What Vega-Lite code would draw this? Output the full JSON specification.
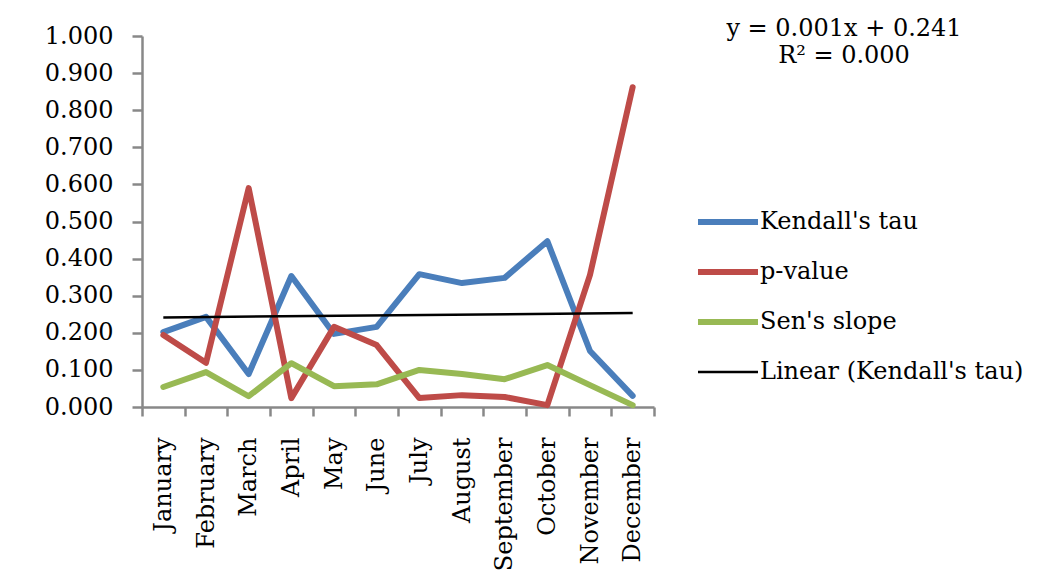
{
  "$schema": "https://vega.github.io/schema/vega-lite/v6.json",
  "width": 512,
  "height": 371,
  "autosize": {"type": "none"},
  "padding": {"left": 142, "top": 36, "right": 398, "bottom": 173},
  "background": "white",
  "datasets": {
    "stats": [
      {"month": "January", "idx": 1, "series": "Kendall's tau", "value": 0.202},
      {"month": "February", "idx": 2, "series": "Kendall's tau", "value": 0.243},
      {"month": "March", "idx": 3, "series": "Kendall's tau", "value": 0.089},
      {"month": "April", "idx": 4, "series": "Kendall's tau", "value": 0.353},
      {"month": "May", "idx": 5, "series": "Kendall's tau", "value": 0.197},
      {"month": "June", "idx": 6, "series": "Kendall's tau", "value": 0.216},
      {"month": "July", "idx": 7, "series": "Kendall's tau", "value": 0.358},
      {"month": "August", "idx": 8, "series": "Kendall's tau", "value": 0.334},
      {"month": "September", "idx": 9, "series": "Kendall's tau", "value": 0.348},
      {"month": "October", "idx": 10, "series": "Kendall's tau", "value": 0.447},
      {"month": "November", "idx": 11, "series": "Kendall's tau", "value": 0.151},
      {"month": "December", "idx": 12, "series": "Kendall's tau", "value": 0.030},
      {"month": "January", "idx": 1, "series": "p-value", "value": 0.194},
      {"month": "February", "idx": 2, "series": "p-value", "value": 0.119},
      {"month": "March", "idx": 3, "series": "p-value", "value": 0.590},
      {"month": "April", "idx": 4, "series": "p-value", "value": 0.024},
      {"month": "May", "idx": 5, "series": "p-value", "value": 0.216},
      {"month": "June", "idx": 6, "series": "p-value", "value": 0.167},
      {"month": "July", "idx": 7, "series": "p-value", "value": 0.024},
      {"month": "August", "idx": 8, "series": "p-value", "value": 0.032},
      {"month": "September", "idx": 9, "series": "p-value", "value": 0.027},
      {"month": "October", "idx": 10, "series": "p-value", "value": 0.005},
      {"month": "November", "idx": 11, "series": "p-value", "value": 0.356},
      {"month": "December", "idx": 12, "series": "p-value", "value": 0.862},
      {"month": "January", "idx": 1, "series": "Sen's slope", "value": 0.054},
      {"month": "February", "idx": 2, "series": "Sen's slope", "value": 0.094},
      {"month": "March", "idx": 3, "series": "Sen's slope", "value": 0.029},
      {"month": "April", "idx": 4, "series": "Sen's slope", "value": 0.118},
      {"month": "May", "idx": 5, "series": "Sen's slope", "value": 0.056},
      {"month": "June", "idx": 6, "series": "Sen's slope", "value": 0.061},
      {"month": "July", "idx": 7, "series": "Sen's slope", "value": 0.100},
      {"month": "August", "idx": 8, "series": "Sen's slope", "value": 0.089},
      {"month": "September", "idx": 9, "series": "Sen's slope", "value": 0.075},
      {"month": "October", "idx": 10, "series": "Sen's slope", "value": 0.113},
      {"month": "November", "idx": 11, "series": "Sen's slope", "value": 0.059},
      {"month": "December", "idx": 12, "series": "Sen's slope", "value": 0.005}
    ]
  },
  "title": {
    "text": ["y = 0.001x + 0.241", "R² = 0.000"],
    "orient": "top",
    "anchor": "end",
    "align": "center",
    "frame": "group",
    "dx": 190,
    "dy": 62,
    "offset": -1,
    "baseline": "alphabetic",
    "lineHeight": 27,
    "font": "DejaVu Serif",
    "fontSize": 24,
    "fontWeight": "normal",
    "color": "black"
  },
  "config": {
    "view": {"stroke": null},
    "font": "DejaVu Serif",
    "axis": {
      "grid": false,
      "title": null,
      "labelFont": "DejaVu Serif",
      "labelFontSize": 24,
      "labelColor": "black",
      "labelOverlap": false,
      "labelFlush": false,
      "domainColor": "#888888",
      "domainWidth": 2.5,
      "tickColor": "#888888",
      "tickWidth": 2.5
    },
    "legend": {
      "orient": "none",
      "legendX": 574,
      "legendY": 174,
      "title": null,
      "padding": 0,
      "symbolType": "stroke",
      "symbolSize": 3600,
      "symbolStrokeWidth": 6,
      "labelOffset": 20,
      "labelFont": "DejaVu Serif",
      "labelFontSize": 24,
      "labelColor": "black",
      "rowPadding": 26,
      "labelLimit": 400
    }
  },
  "encoding": {
    "x": {
      "field": "month",
      "type": "ordinal",
      "sort": ["January", "February", "March", "April", "May", "June", "July", "August", "September", "October", "November", "December"],
      "scale": {"type": "band", "paddingInner": 0, "paddingOuter": 0},
      "axis": {"labelAngle": -90, "labelPadding": 21, "tickBand": "extent", "tickSize": 9}
    },
    "y": {
      "field": "value",
      "type": "quantitative",
      "scale": {"domain": [0, 1], "nice": false},
      "axis": {"values": [0, 0.1, 0.2, 0.3, 0.4, 0.5, 0.6, 0.7, 0.8, 0.9, 1], "format": ".3f", "tickSize": 10, "labelPadding": 19}
    },
    "color": {
      "field": "series",
      "type": "nominal",
      "scale": {
        "domain": ["Kendall's tau", "p-value", "Sen's slope", "Linear (Kendall's tau)"],
        "range": ["#4A7EBB", "#BE4B48", "#98B954", "#000000"]
      },
      "legend": {
        "encode": {
          "symbols": {
            "update": {
              "strokeWidth": {"signal": "datum.value === 'Linear (Kendall\\'s tau)' ? 2.5 : 6"}
            }
          }
        }
      }
    }
  },
  "layer": [
    {
      "data": {"name": "stats"},
      "mark": {"type": "line", "strokeWidth": 6, "strokeCap": "round", "strokeJoin": "round"}
    },
    {
      "data": {"name": "stats"},
      "transform": [
        {"filter": {"field": "series", "equal": "Kendall's tau"}},
        {"regression": "value", "on": "idx", "extent": [1, 12]},
        {"lookup": "idx", "from": {"data": {"name": "stats"}, "key": "idx", "fields": ["month"]}}
      ],
      "mark": {"type": "line", "strokeWidth": 2.5},
      "encoding": {
        "color": {"datum": "Linear (Kendall's tau)"}
      }
    }
  ]
}
